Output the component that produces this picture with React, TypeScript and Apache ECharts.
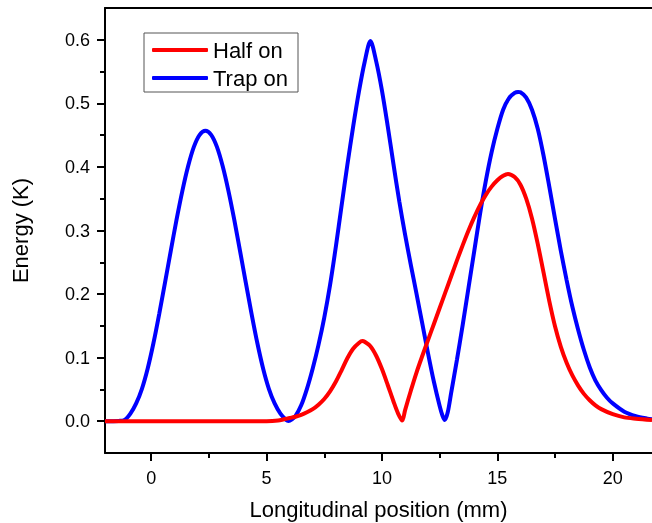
import React, { useEffect, useRef } from "react";
import * as echarts from "echarts";

// Trap on (blue)
const trapX = [
  -2, -1.4, -1.15, -0.9, -0.65, -0.4, -0.15, 0.1, 0.35, 0.6, 0.85, 1.1, 1.35, 1.6, 1.85, 2.1, 2.35,
  2.6, 2.85, 3.1, 3.35, 3.6, 3.85, 4.1, 4.35, 4.6, 4.85, 5.1, 5.35, 5.6, 5.85, 5.95,
  6.1, 6.25, 6.5, 6.75, 7, 7.25, 7.5, 7.75, 8, 8.25, 8.5, 8.75, 9, 9.25, 9.5,
  9.75, 10, 10.25, 10.5, 10.75, 11, 11.25, 11.5, 11.75, 12, 12.25, 12.5, 12.62, 12.72,
  12.85, 13, 13.25, 13.5, 13.75, 14, 14.25, 14.5, 14.75, 15, 15.25, 15.5, 15.75, 15.9, 16,
  16.25, 16.5, 16.75, 17, 17.25, 17.5, 17.75, 18, 18.25, 18.5, 18.75, 19, 19.25, 19.5, 19.75, 20,
  20.5, 21, 21.5, 21.7,
];
const trapY = [
  0, 0.0005, 0.002, 0.012, 0.028, 0.051, 0.083, 0.123, 0.169, 0.218, 0.268, 0.317, 0.362, 0.401, 0.4315, 0.4505, 0.457,
  0.4505, 0.4315, 0.401, 0.362, 0.317, 0.268, 0.218, 0.169, 0.123, 0.083, 0.051, 0.028, 0.012, 0.002, 0.0005,
  0.003, 0.008, 0.025, 0.051, 0.083, 0.12, 0.163, 0.214, 0.274, 0.339, 0.403, 0.463, 0.518, 0.565, 0.598,
  0.566, 0.52, 0.464, 0.404, 0.346, 0.294, 0.246, 0.2, 0.153, 0.106, 0.062, 0.024, 0.009, 0.002,
  0.014, 0.045, 0.097, 0.152, 0.21, 0.268, 0.326, 0.378, 0.423, 0.46, 0.49, 0.508, 0.5165, 0.518, 0.5175,
  0.509, 0.49, 0.46, 0.418, 0.369, 0.318, 0.268, 0.222, 0.18, 0.144, 0.112, 0.085, 0.064, 0.049, 0.037, 0.028,
  0.015, 0.008, 0.004, 0.003,
];

// Half on (red)
const halfX = [
  -2, 1, 4, 5, 5.5, 5.75, 6, 6.25, 6.5, 6.75, 7, 7.25, 7.5, 7.75, 8, 8.25, 8.5, 8.75, 9, 9.15, 9.25,
  9.5, 9.75, 10, 10.25, 10.5, 10.7, 10.88,
  11, 11.25, 11.5, 11.75, 12, 12.25, 12.5, 12.75, 13, 13.25, 13.5, 13.75, 14, 14.25, 14.5, 14.75, 15, 15.25, 15.46,
  15.75, 16, 16.25, 16.5, 16.75, 17, 17.25, 17.5, 17.75, 18, 18.25, 18.5, 18.75, 19, 19.25, 19.5, 20, 20.5, 21, 21.7,
];
const halfY = [
  0, 0, 0, 0, 0.001, 0.003, 0.005, 0.007, 0.01, 0.014, 0.019, 0.026, 0.035, 0.047, 0.062, 0.08, 0.099, 0.114, 0.123, 0.126, 0.125,
  0.118, 0.103, 0.082, 0.057, 0.031, 0.012, 0.001,
  0.017, 0.048, 0.077, 0.103, 0.128, 0.153, 0.178, 0.203, 0.228, 0.253, 0.277, 0.3, 0.321, 0.34, 0.356, 0.369, 0.379, 0.386, 0.389,
  0.384, 0.372, 0.35, 0.319, 0.279, 0.234, 0.189, 0.149, 0.117, 0.092, 0.072, 0.056, 0.043, 0.033, 0.025, 0.019, 0.011, 0.006, 0.004, 0.002,
];

const xMajorTicks = [0, 5, 10, 15, 20];
const xMinorTicks = [2.5, 7.5, 12.5, 17.5];
const yMajorTicks = [0, 0.1, 0.2, 0.3, 0.4, 0.5, 0.6];
const yMinorTicks = [0.05, 0.15, 0.25, 0.35, 0.45, 0.55];

export default function App() {
  const ref = useRef<HTMLDivElement>(null);
  useEffect(() => {
    const chart = echarts.init(ref.current!, null, { renderer: "svg" });
    const font = "'Liberation Sans', Arial, sans-serif";
    const axisLineStyle = { color: "#000", width: 2 };
    chart.setOption({
      animation: false,
      textStyle: { fontFamily: font, color: "#000" },
      grid: { left: 105, right: 0, top: 8, bottom: 70, containLabel: false, outerBoundsMode: "none" },
      legend: {
        orient: "vertical",
        left: 144,
        top: 33,
        data: ["Half on", "Trap on"],
        icon: "roundRect",
        itemWidth: 56,
        itemHeight: 4,
        itemGap: 6,
        padding: [6, 10, 3, 8],
        borderColor: "#555",
        borderWidth: 1,
        borderRadius: 0,
        textStyle: { fontSize: 22, color: "#000", fontFamily: font },
      },
      xAxis: [
        {
          type: "value",
          min: -2,
          max: 21.7,
          position: "bottom",
          axisLine: { show: true, onZero: false, lineStyle: axisLineStyle },
          axisTick: { show: true, customValues: xMajorTicks, length: 8, inside: false, lineStyle: axisLineStyle },
          axisLabel: { customValues: xMajorTicks, fontSize: 18, color: "#000", margin: 16, formatter: (v: number) => String(v) },
          splitLine: { show: false },
          name: "Longitudinal position (mm)",
          nameLocation: "middle",
          nameGap: 45,
          nameTextStyle: { fontSize: 22, color: "#000", fontFamily: font },
        },
        {
          type: "value",
          min: -2,
          max: 21.7,
          position: "bottom",
          axisLine: { show: false, onZero: false },
          axisTick: { show: true, customValues: xMinorTicks, length: 5, inside: false, lineStyle: axisLineStyle },
          axisLabel: { show: false },
          splitLine: { show: false },
        },
        {
          type: "value",
          min: -2,
          max: 21.7,
          position: "top",
          axisLine: { show: true, onZero: false, lineStyle: axisLineStyle },
          axisTick: { show: false },
          axisLabel: { show: false },
          splitLine: { show: false },
        },
      ],
      yAxis: [
        {
          type: "value",
          min: -0.05,
          max: 0.65,
          position: "left",
          axisLine: { show: true, onZero: false, lineStyle: axisLineStyle },
          axisTick: { show: true, customValues: yMajorTicks, length: 8, inside: false, lineStyle: axisLineStyle },
          axisLabel: { customValues: yMajorTicks, fontSize: 18, color: "#000", margin: 15, formatter: (v: number) => v.toFixed(1) },
          splitLine: { show: false },
          name: "Energy (K)",
          nameLocation: "middle",
          nameGap: 74,
          nameTextStyle: { fontSize: 22, color: "#000", fontFamily: font },
        },
        {
          type: "value",
          min: -0.05,
          max: 0.65,
          position: "left",
          axisLine: { show: false, onZero: false },
          axisTick: { show: true, customValues: yMinorTicks, length: 5, inside: false, lineStyle: axisLineStyle },
          axisLabel: { show: false },
          splitLine: { show: false },
        },
      ],
      series: [
        {
          name: "Trap on",
          type: "line",
          xAxisIndex: 0,
          yAxisIndex: 0,
          data: trapX.map((x, i) => [x, trapY[i]]),
          showSymbol: false,
          symbol: "none",
          smooth: 0.3,
          lineStyle: { color: "#0000ff", width: 4 },
          itemStyle: { color: "#0000ff" },
        },
        {
          name: "Half on",
          type: "line",
          xAxisIndex: 0,
          yAxisIndex: 0,
          data: halfX.map((x, i) => [x, halfY[i]]),
          showSymbol: false,
          symbol: "none",
          smooth: 0.3,
          lineStyle: { color: "#ff0000", width: 4 },
          itemStyle: { color: "#ff0000" },
        },
      ],
    });
    return () => chart.dispose();
  }, []);
  return <div ref={ref} style={{ position: "fixed", left: 0, top: 0, width: 652, height: 523 }} />;
}
